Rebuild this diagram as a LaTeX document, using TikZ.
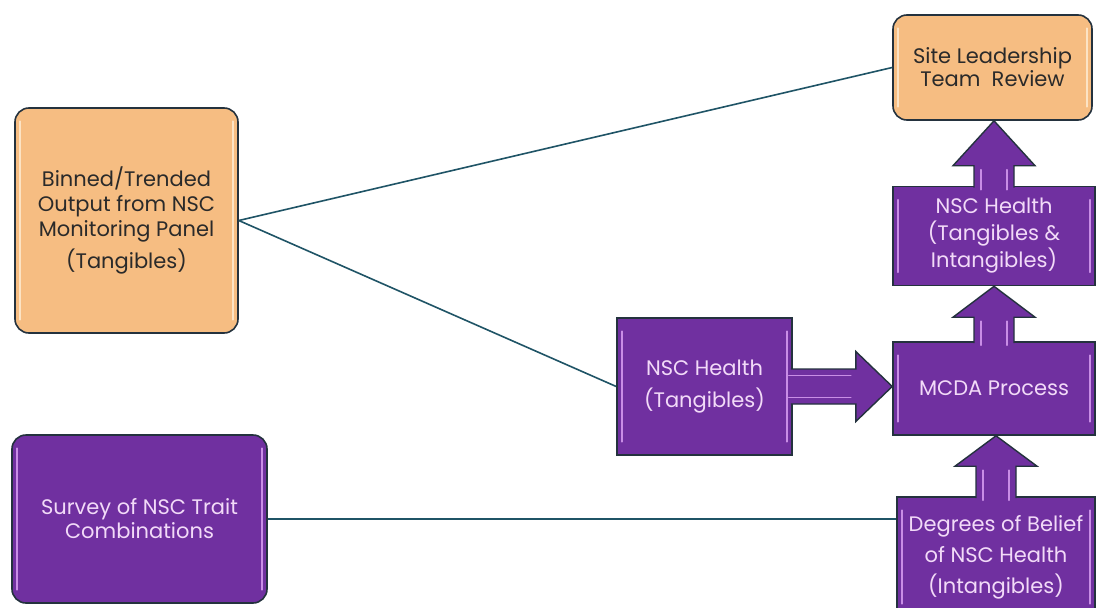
\documentclass[tikz,border=0pt]{standalone}
\usepackage{fontspec}
\setmainfont{Poppins}
\usetikzlibrary{calc}
\definecolor{orfill}{HTML}{F6BD82}
\definecolor{pufill}{HTML}{7030A0}
\definecolor{putext}{HTML}{F2DAF8}
\definecolor{ortext}{HTML}{2A2A2A}
\definecolor{edge}{HTML}{24323E}
\definecolor{conn}{HTML}{1F5466}
\definecolor{puhl}{HTML}{C98EE6}
\definecolor{orhl}{HTML}{FCE3C4}
\tikzset{
  basebox/.style={draw=edge, line width=1.6pt, inner sep=0pt, align=center,
    font=\fontsize{21}{25}\selectfont},
  orbox/.style={basebox, fill=orfill, text=ortext, rounded corners=14pt},
  pubox/.style={basebox, fill=pufill, text=putext},
  purbox/.style={pubox, rounded corners=14pt},
  connector/.style={draw=conn, line width=1.6pt},
  blockarrow/.style={fill=pufill, draw=edge, line width=1.4pt, line join=miter},
  hlp/.style={draw=puhl, line width=1.6pt, line cap=round},
  hlo/.style={draw=orhl, line width=1.6pt, line cap=round}
}
\begin{document}
\begin{tikzpicture}[x=1pt,y=1pt]
\useasboundingbox (0,0) rectangle (1099,-607);
\fill[white] (0,0) rectangle (1099,-607);
\begin{scope}
\clip (0,0) rectangle (1099,-607);

% boxes
\node[orbox, minimum width=223pt, minimum height=225pt] (binned) at (126.5,-220.5)
  {Binned/Trended\\Output from NSC\\Monitoring Panel\\[6pt](Tangibles)};
\node[orbox, minimum width=199pt, minimum height=105pt, font=\fontsize{21}{23}\selectfont] (slt) at (992.5,-67.5)
  {Site Leadership\\Team \ Review};
\node[pubox, minimum width=202pt, minimum height=99pt, font=\fontsize{21}{27}\selectfont] (nhti) at (994,-236)
  {NSC Health\\(Tangibles \&\\Intangibles)};
\node[pubox, minimum width=202pt, minimum height=93pt] (mcda) at (994,-388.5)
  {MCDA Process};
\node[pubox, minimum width=175pt, minimum height=137pt, font=\fontsize{21}{32}\selectfont] (nht) at (704.5,-386.5)
  {NSC Health\\(Tangibles)};
\node[pubox, minimum width=198pt, minimum height=120pt, font=\fontsize{21}{31}\selectfont] (deg) at (996,-557)
  {Degrees of Belief\\of NSC Health\\(Intangibles)};
\node[purbox, minimum width=255pt, minimum height=168pt, font=\fontsize{21}{24}\selectfont] (survey) at (139.5,-519)
  {Survey of NSC Trait\\Combinations};

% highlight lines
\foreach \b/\s in {binned/hlo, slt/hlo, nhti/hlp, mcda/hlp, nht/hlp, deg/hlp, survey/hlp}{
  \draw[\s] ($(\b.north west)+(6,-14)$) -- ($(\b.south west)+(6,14)$);
  \draw[\s] ($(\b.north east)+(-6,-14)$) -- ($(\b.south east)+(-6,14)$);
}

% connectors
\draw[connector] (binned.east) -- (slt.west);
\draw[connector] (binned.east) -- (nht.west);
\draw[connector] (survey.east) -- (survey.east -| deg.west);

% block arrows up
\foreach \lo/\hi/\sh in {nhti/slt/20, mcda/nhti/24, deg/mcda/30}{
  \draw[blockarrow] let \p1=(\lo.north), \p2=(\hi.south) in
    (\x1-20pt,\y1-2pt) -- (\x1-20pt,\y1+\sh pt) -- (\x1-41pt,\y1+\sh pt)
    -- (\x1,\y2) -- (\x1+41pt,\y1+\sh pt) -- (\x1+20pt,\y1+\sh pt) -- (\x1+20pt,\y1-2pt);
  \draw[hlp] let \p1=(\lo.north) in (\x1-13pt,\y1-4pt) -- (\x1-13pt,\y1+\sh pt-4pt);
  \draw[hlp] let \p1=(\lo.north) in (\x1+13pt,\y1-4pt) -- (\x1+13pt,\y1+\sh pt-4pt);
}
% block arrow right
\draw[blockarrow] let \p1=(nht.east), \p2=(mcda.west) in
  (\x1-2pt,\y1+17.5pt) -- (\x1+63pt,\y1+17.5pt) -- (\x1+63pt,\y1+35pt)
  -- (\x2,\y1) -- (\x1+63pt,\y1-35pt) -- (\x1+63pt,\y1-17.5pt) -- (\x1-2pt,\y1-17.5pt);
\draw[hlp] let \p1=(nht.east) in (\x1-4pt,\y1+11pt) -- (\x1+58pt,\y1+11pt);
\draw[hlp] let \p1=(nht.east) in (\x1-4pt,\y1-11pt) -- (\x1+58pt,\y1-11pt);
\end{scope}
\end{tikzpicture}
\end{document}
